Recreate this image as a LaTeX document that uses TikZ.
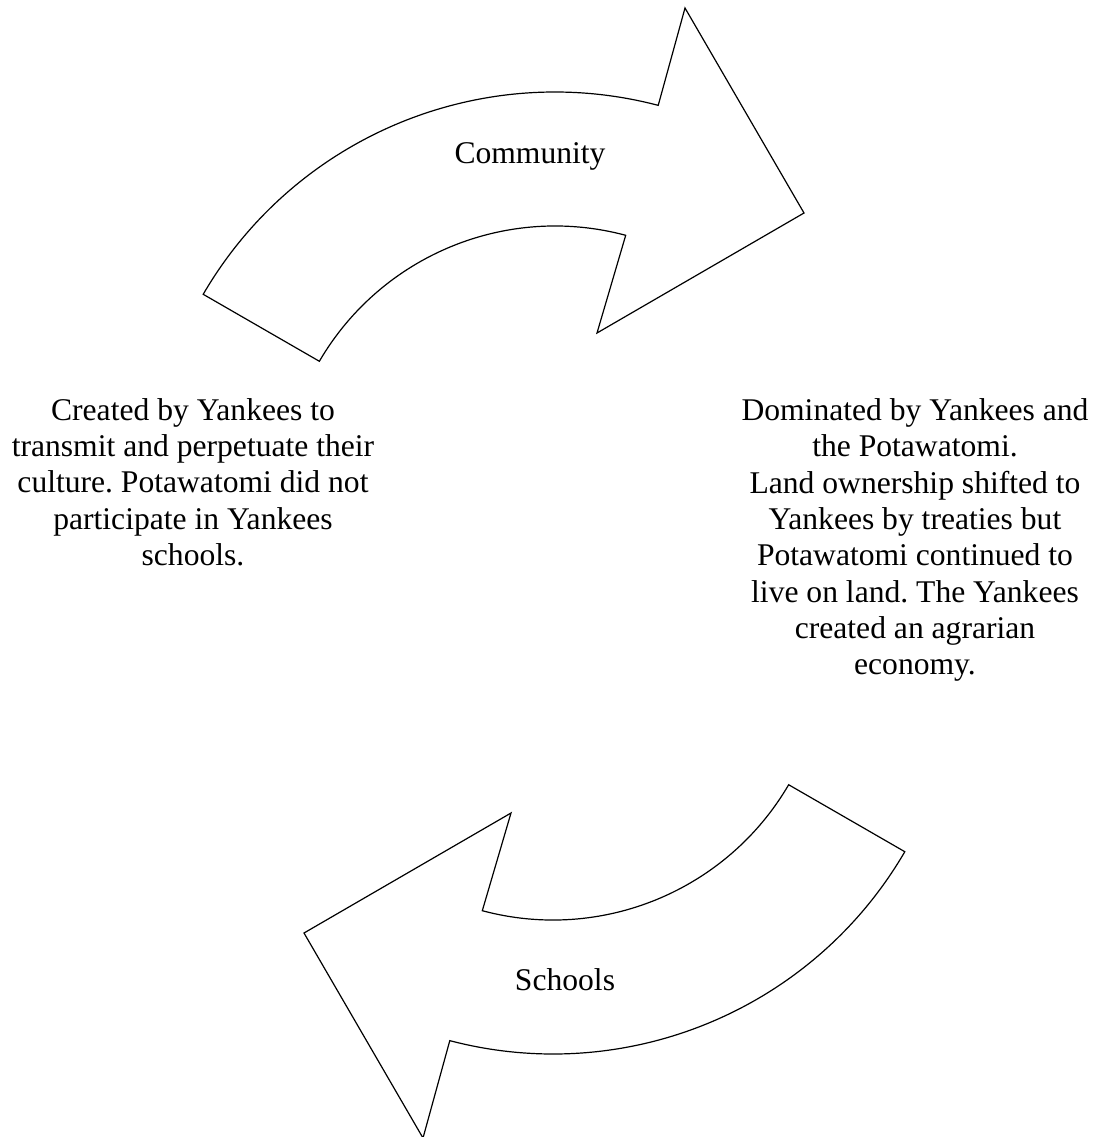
\documentclass[tikz,border=0pt]{standalone}
\usepackage{fontspec}
\setmainfont{Liberation Serif}
\frenchspacing
% curved band arrow on circles of radius 407 / 273 about (555,-499)
\newcommand\bandarrowpath{%
  (203.2,-294.3) arc[start angle=149.8,end angle=75.3,radius=407pt]
  -- (685,-8) -- (804,-213) -- (597,-333)
  -- (625.7,-235.3) arc[start angle=75,end angle=149.7,radius=273pt] -- cycle}
\begin{document}
\begin{tikzpicture}[x=1pt,y=1pt,
  bigarrow/.style={draw=black,fill=white,line width=1.2pt,line join=miter},
  label/.style={inner sep=0pt,align=center,font=\fontsize{31.6}{36.3}\selectfont}]
% canvas
\fill[white] (0,0) rectangle (1099,-1137);
\useasboundingbox (0,0) rectangle (1099,-1137);

% upper curved arrow (pointing right)
\draw[bigarrow] \bandarrowpath;

% lower curved arrow: the same shape turned half a circle
\draw[bigarrow,rotate around={180:(554,-573)}] \bandarrowpath;

% labels
\node[label] (community) at (530,-156) {Community};
\node[label] (schools) at (565,-980) {Schools};

\node[label] (schooltext) at (193,-482) {Created by Yankees to\\
  transmit and perpetuate their\\
  culture. Potawatomi did not\\
  participate in Yankees\\
  schools.};

\node[label] (communitytext) at (915,-540) {Dominated by Yankees and\\
  the Potawatomi.\\
  Land ownership shifted to\\
  Yankees by treaties but\\
  Potawatomi continued to\\
  live on land. The Yankees\\
  created an agrarian\\
  economy.};
\end{tikzpicture}
\end{document}
